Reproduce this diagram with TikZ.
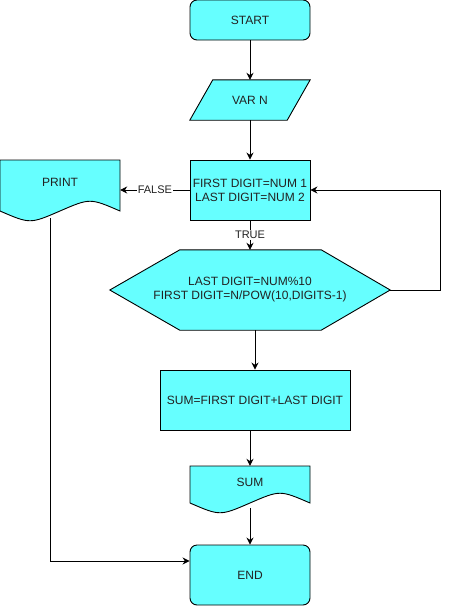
\documentclass[tikz,border=0pt]{standalone}
\usepackage{fontspec}
\setmainfont{Liberation Sans}
\usetikzlibrary{arrows.meta,calc}
\definecolor{boxfill}{HTML}{66FFFF}
\definecolor{txt}{HTML}{222222}
\tikzset{
  base/.style={font=\fontsize{12}{14}\selectfont, text=txt, align=center, inner sep=1pt},
  termbox/.style={base, draw=black, fill=boxfill, rounded corners=7pt, minimum width=120pt, minimum height=40pt, line width=0.9pt},
  procbox/.style={base, draw=black, fill=boxfill, minimum width=120pt, minimum height=60pt, line width=0.9pt},
  ghost/.style={base, draw=none},
  shapeline/.style={draw=black, fill=boxfill, line width=0.9pt},
  arr/.style={draw=black, line width=0.9pt, -{Stealth[length=7pt,width=7pt]}},
  lbl/.style={font=\fontsize{11}{13}\selectfont, text=txt, fill=white, inner sep=1pt}
}
\begin{document}
\begin{tikzpicture}[x=1pt,y=-1pt]
\useasboundingbox (0,0) rectangle (449,606);
% START
\node[termbox] (start) at (250,20) {START};
% VAR N parallelogram
\node[ghost, minimum width=120pt, minimum height=40pt] (var) at (250,100) {};
\path[shapeline] ($(var.north west)+(23,0)$) -- (var.north east) -- ($(var.south east)+(-23,0)$) -- (var.south west) -- cycle;
\node[ghost] at (var.center) {VAR N};
% init box
\node[procbox] (init) at (250,190) {FIRST DIGIT=NUM 1\\LAST DIGIT=NUM 2};
% PRINT document
\path[shapeline] (0,160) -- (120,160) -- (120,211) .. controls (90,198) .. (60,211) .. controls (30,224) .. (0,211) -- cycle;
\node[ghost, minimum width=120pt, minimum height=44pt] (print) at (60,182) {PRINT};
\coordinate (pout) at (50,218);
% hexagon
\node[ghost, minimum width=280pt, minimum height=80pt] (hex) at (250,290) {};
\path[shapeline] (hex.west) -- ($(hex.north west)+(70,0)$) -- ($(hex.north east)+(-69,0)$) -- (hex.east) -- ($(hex.south east)+(-69,0)$) -- ($(hex.south west)+(70,0)$) -- cycle;
\node[ghost] at (hex.center) {LAST DIGIT=NUM\%10\\FIRST DIGIT=N/POW(10,DIGITS-1)};
% SUM box
\node[procbox, minimum width=190pt] (sum) at (255,400) {SUM=FIRST DIGIT+LAST DIGIT};
% SUM document
\path[shapeline] (190,466) -- (310,466) -- (310,503) .. controls (280,490) .. (250,503) .. controls (220,516) .. (190,503) -- cycle;
\node[ghost, minimum width=120pt, minimum height=32pt] (sumdoc) at (250,482) {SUM};
\coordinate (sout) at (250,508);
% END
\node[termbox, minimum height=60pt] (stop) at (250,575) {END};
% connectors
\draw[arr] (start) -- (var);
\draw[arr] (var) -- (init);
\draw[arr] (init.west) -- node[lbl] {FALSE} (print.east |- init.west);
\draw[arr] (init.south) -- node[lbl] {TRUE} (hex.north);
\draw[arr] (hex.east) -- ++(50,0) |- (init.east);
\draw[arr] (sum.north |- hex.south) -- (sum.north);
\draw[arr] (sumdoc.north |- sum.south) -- (sumdoc.north);
\draw[arr] (sout) -- (stop.north);
\draw[arr] (pout) |- ($(stop.west)+(0,-14)$);
\end{tikzpicture}
\end{document}
